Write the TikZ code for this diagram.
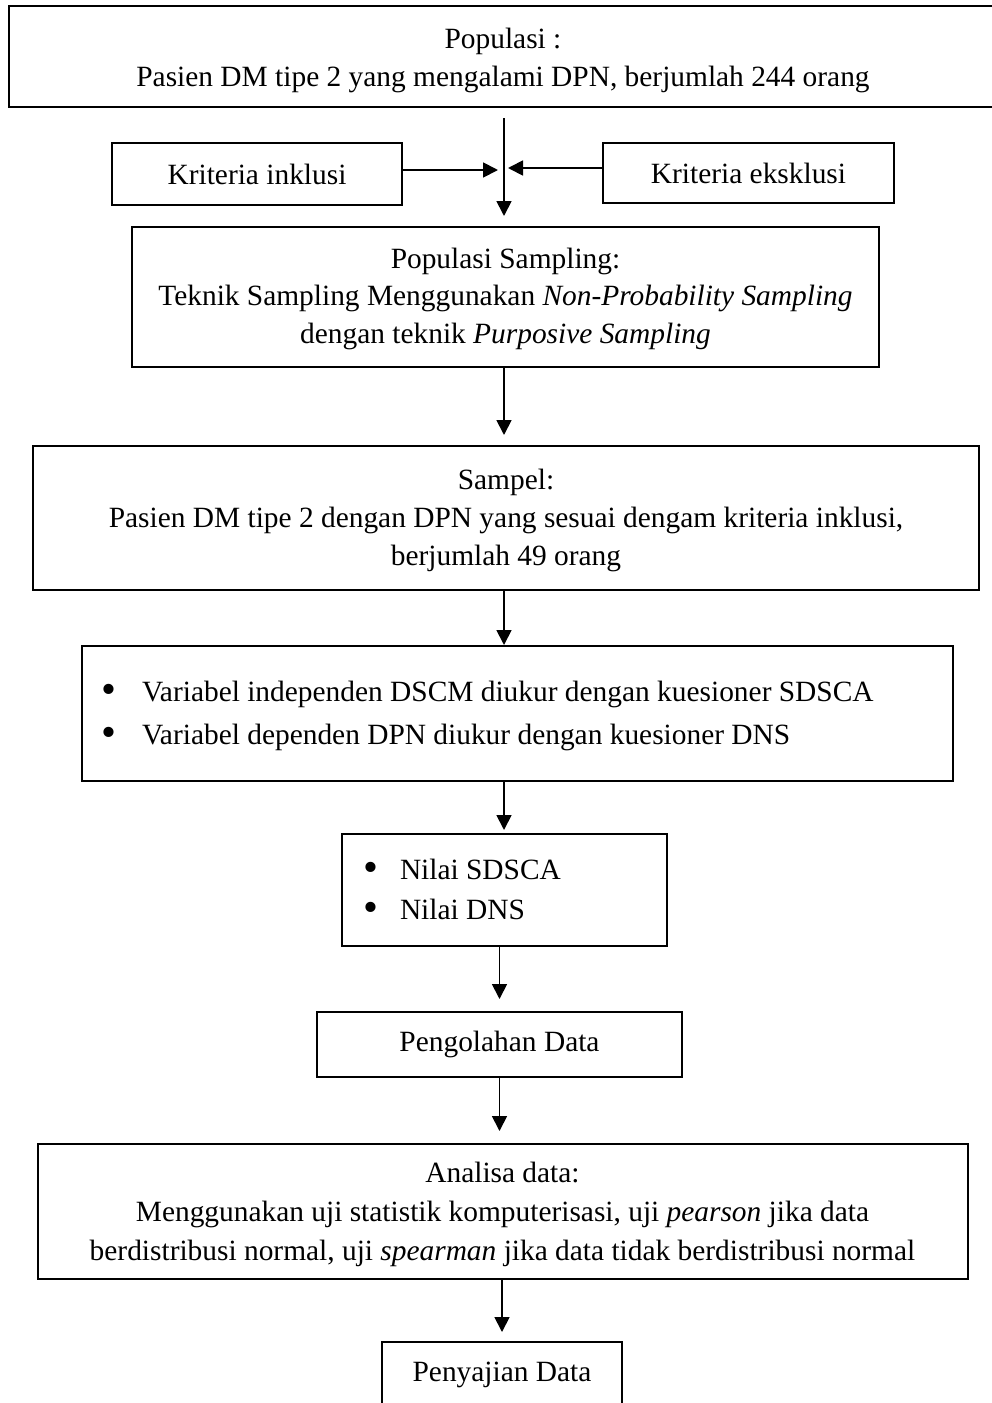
\documentclass[tikz,border=0pt]{standalone}
\usepackage{fontspec}
\usepackage{graphicx}
\setmainfont{Liberation Serif}
\usetikzlibrary{arrows.meta}
\newcommand\fbulmark{\raisebox{-0.07em}{\scalebox{1.45}{\textbullet}}}
\newcommand\fbulA{\makebox[20pt][l]{\hspace{-0.5pt}\fbulmark}}
\newcommand\fbulB{\makebox[18pt][l]{\hspace{-0.5pt}\fbulmark}}
\begin{document}
\begin{tikzpicture}[x=0.5pt,y=-0.5pt,
  box/.style={draw,line width=1pt,inner sep=0pt,align=center,font=\fontsize{14.7}{19}\selectfont},
  arr/.style={line width=0.9pt,-{Triangle[length=7.5pt,width=7.5pt]}},
]
\useasboundingbox (0,0) rectangle (991,1403);
\node[box,minimum width=494pt,minimum height=50.5pt] (pop) at (503,56.5)
  {\rule{0pt}{14pt}Populasi :\\Pasien DM tipe 2 yang mengalami DPN, berjumlah 244 orang};
\node[box,minimum width=145pt,minimum height=31pt] (incl) at (257,174) {Kriteria inklusi};
\node[box,minimum width=145.5pt,minimum height=30pt] (excl) at (748.5,173) {Kriteria eksklusi};
\node[box,minimum width=373.5pt,minimum height=70pt,font=\fontsize{14.7}{18.75}\selectfont] (ps) at (505.5,297)
  {\rule{0pt}{12pt}Populasi Sampling:\\Teknik Sampling Menggunakan \textit{Non-Probability Sampling}\\dengan teknik \textit{Purposive Sampling}};
\node[box,minimum width=473pt,minimum height=72pt] (samp) at (506,518)
  {\rule{0pt}{13pt}Sampel:\\Pasien DM tipe 2 dengan DPN yang sesuai dengam kriteria inklusi,\\berjumlah 49 orang};
\node[box,align=flush left,inner xsep=10pt,text width=415.5pt,minimum height=67.5pt,font=\fontsize{14.7}{21.5}\selectfont] (var) at (517.5,713.5)
  {\rule{0pt}{13pt}\fbulA Variabel independen DSCM diukur dengan kuesioner SDSCA\\\fbulA Variabel dependen DPN diukur dengan kuesioner DNS};
\node[box,align=flush left,inner xsep=11pt,text width=140.5pt,minimum height=56pt,font=\fontsize{14.7}{20}\selectfont] (nil) at (504.5,890)
  {\fbulB Nilai SDSCA\\\fbulB Nilai DNS};
\node[box,minimum width=182.5pt,minimum height=32.5pt] (peng) at (499.5,1044.5) {Pengolahan Data};
\node[box,minimum width=465pt,minimum height=67.5pt,font=\fontsize{14.7}{19.5}\selectfont] (ana) at (502.5,1211.5)
  {\rule{0pt}{13pt}Analisa data:\\Menggunakan uji statistik komputerisasi, uji \textit{pearson} jika data\\berdistribusi normal, uji \textit{spearman} jika data tidak berdistribusi normal};
\node[box,minimum width=120pt,minimum height=33pt] (saji) at (502,1375) {\raisebox{3pt}{Penyajian Data}};
% connectors
\coordinate (vtop) at (504,118);
\coordinate (jl) at (498,170);
\coordinate (jr) at (508,168);
\draw[arr,shorten >=5pt] (vtop) -- (vtop |- ps.north);
\draw[arr] (incl.east |- jl) -- (jl);
\draw[arr] (excl.west |- jr) -- (jr);
\draw[arr,shorten >=5pt] (ps.south -| vtop) -- (samp.north -| vtop);
\draw[arr] (samp.south -| vtop) -- (var.north -| vtop);
\draw[arr,shorten >=1.5pt] (var.south -| vtop) -- (nil.north -| vtop);
\draw[arr,shorten >=6pt] (nil.south -| peng.north) -- (peng.north);
\draw[arr,shorten >=6pt] (peng.south) -- (peng.south |- ana.north);
\draw[arr,shorten >=4.5pt] (ana.south -| saji.north) -- (saji.north);
\end{tikzpicture}
\end{document}
